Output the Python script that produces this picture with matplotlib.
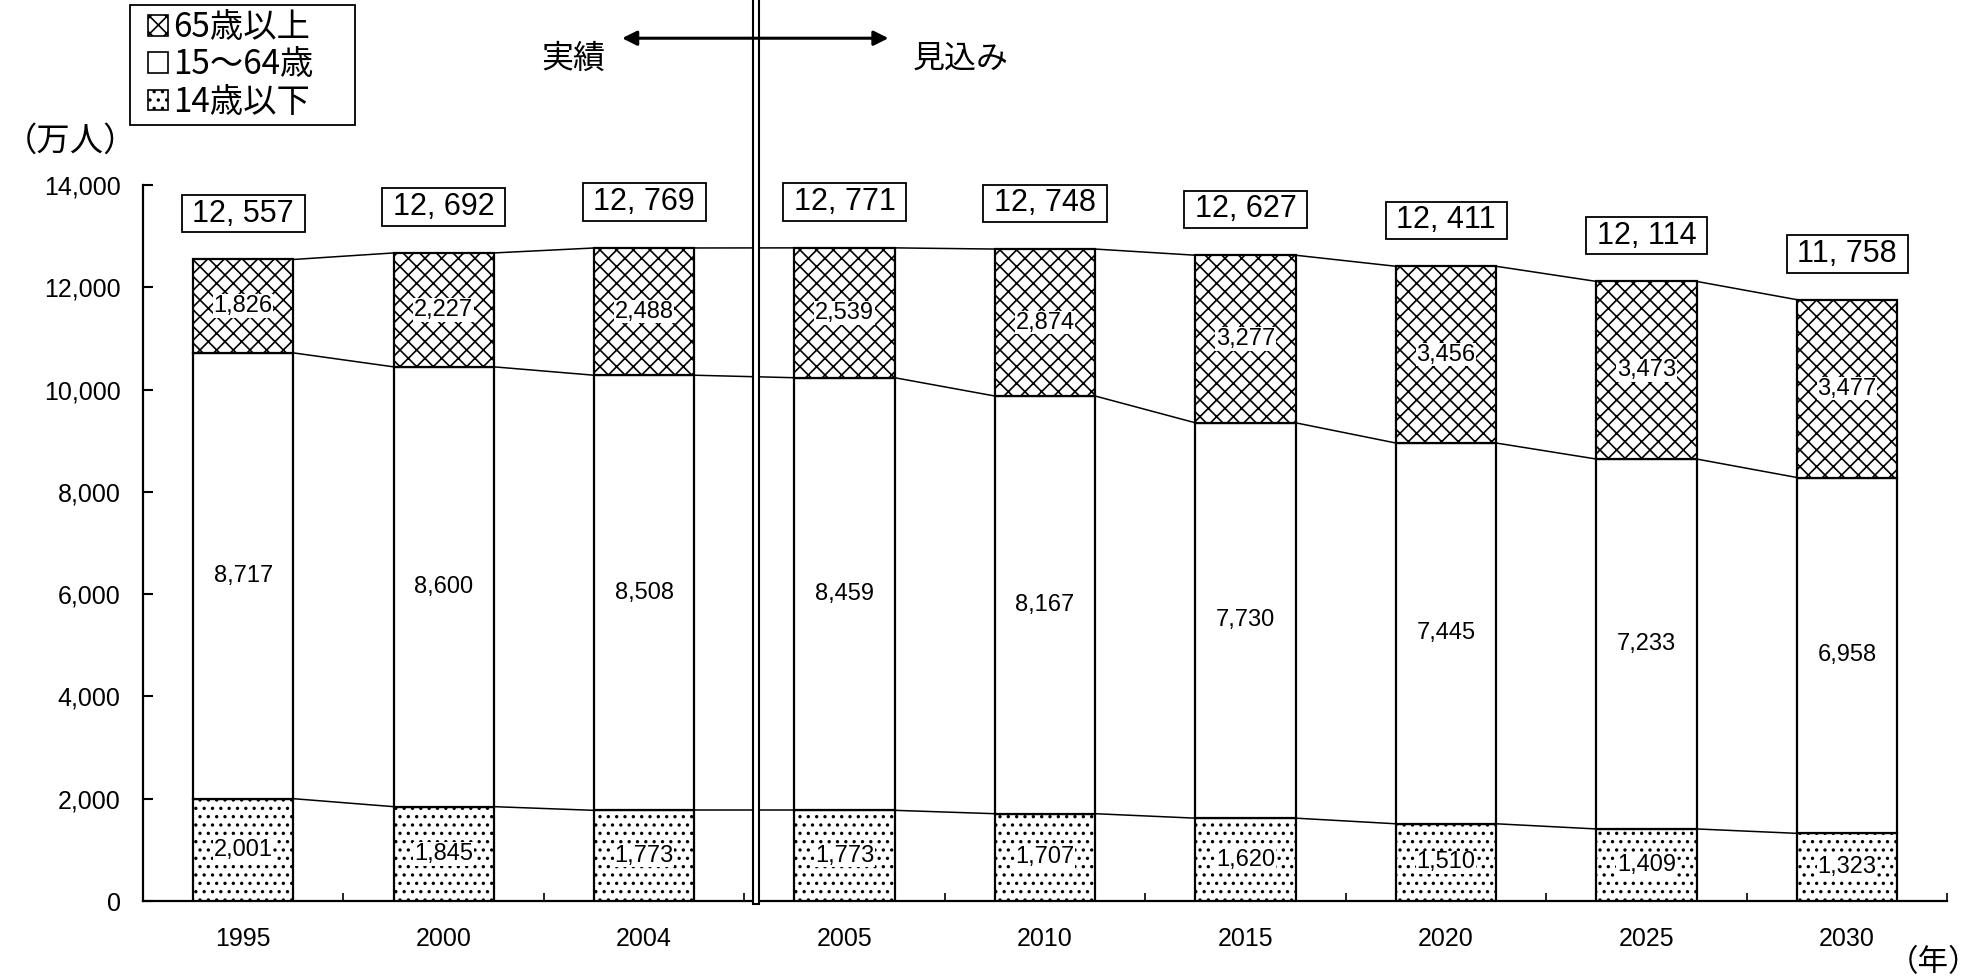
import numpy as np
import matplotlib
matplotlib.use("Agg")
import matplotlib.pyplot as plt
from matplotlib.patches import Patch, Rectangle
from matplotlib.legend_handler import HandlerPatch
from matplotlib.path import Path

plt.rcParams['font.family'] = ['Liberation Sans', 'Noto Sans CJK JP', 'DejaVu Sans']
plt.rcParams['hatch.linewidth'] = 1.2

# population by age group (10k persons)
years = ['1995', '2000', '2004', '2005', '2010', '2015', '2020', '2025', '2030']
total = [12557, 12692, 12769, 12771, 12748, 12627, 12411, 12114, 11758]
age65 = [1826, 2227, 2488, 2539, 2874, 3277, 3456, 3473, 3477]
age15_64 = [8717, 8600, 8508, 8459, 8167, 7730, 7445, 7233, 6958]
age0_14 = [2001, 1845, 1773, 1773, 1707, 1620, 1510, 1409, 1323]

yticks = [0, 2000, 4000, 6000, 8000, 10000, 12000, 14000]
legend_labels = ['65歳以上', '15～64歳', '14歳以下']

CJK = ['Noto Sans CJK JP', 'DejaVu Sans']
HATCH_OLD = '//\\\\'
HATCH_YOUNG = '..'


def wide_box(x0, y0, width, height, mutation_size):
    # plain rectangle with more room left/right than above/below
    padx = 0.35 * mutation_size
    pady = 0.12 * mutation_size
    x0, y0 = x0 - padx, y0 - pady
    x1, y1 = x0 + width + 2 * padx, y0 + height + 2 * pady
    return Path([(x0, y0), (x1, y0), (x1, y1), (x0, y1), (x0, y0)], closed=True)


def square_key(legend, orig_handle, xdescent, ydescent, width, height, fontsize):
    # small square pushed to the right end of the handle slot
    return Rectangle((width - height - xdescent, -ydescent), height, height)


fig = plt.figure(figsize=(19.85, 9.8), dpi=100)
ax = fig.add_axes([0.072, 0.0806, 0.909, 0.7306])

x = np.arange(len(years))
w = 0.5
young = np.array(age0_14)
work = np.array(age15_64)
old = np.array(age65)

ax.bar(x, young, w, color='white', edgecolor='black', hatch=HATCH_YOUNG, lw=1.6, zorder=3)
ax.bar(x, work, w, bottom=young, color='white', edgecolor='black', lw=1.6, zorder=3)
ax.bar(x, old, w, bottom=young + work, color='white', edgecolor='black',
       hatch=HATCH_OLD, lw=1.6, zorder=3)

# thin lines joining the segment boundaries of neighbouring bars
for level in [young, young + work, young + work + old]:
    for i in range(len(years) - 1):
        ax.plot([x[i] + w / 2, x[i + 1] - w / 2], [level[i], level[i + 1]],
                color='black', lw=1.1, zorder=2)

# value labels inside the segments, totals in boxes above
for i in range(len(years)):
    ax.text(x[i], young[i] / 2, f'{age0_14[i]:,}', ha='center', va='center',
            fontsize=17, zorder=4,
            bbox=dict(facecolor='white', edgecolor='none', pad=0.5))
    ax.text(x[i], young[i] + work[i] / 2, f'{age15_64[i]:,}', ha='center',
            va='center', fontsize=17, zorder=4)
    ax.text(x[i], young[i] + work[i] + old[i] / 2, f'{age65[i]:,}', ha='center',
            va='center', fontsize=17, zorder=4,
            bbox=dict(facecolor='white', edgecolor='none', pad=0.5))
    ax.annotate(f'{total[i] // 1000}, {total[i] % 1000:03d}',
                xy=(x[i], young[i] + work[i] + old[i]), xytext=(0, 33),
                textcoords='offset points', ha='center', va='center',
                fontsize=22, zorder=4,
                bbox=dict(boxstyle=wide_box, facecolor='white',
                          edgecolor='black', lw=1.3))

# axes styling
ax.set_xlim(-0.5, len(years) - 0.5)
ax.set_ylim(0, 14000)
ax.set_yticks(yticks)
ax.set_yticklabels([f'{v:,}' for v in yticks], fontsize=18)
ax.tick_params(axis='y', direction='in', length=7, width=1.5, pad=16)
ax.set_xticks(x)
ax.set_xticklabels(years, fontsize=18)
ax.tick_params(axis='x', which='major', length=0, pad=19)
ax.set_xticks(np.arange(-0.5, len(years)), minor=True)
ax.tick_params(axis='x', which='minor', direction='in', length=6, width=1.2)
for side in ['top', 'right']:
    ax.spines[side].set_visible(False)
ax.spines['left'].set_linewidth(1.6)
ax.spines['bottom'].set_linewidth(1.6)

# divider between actual and projected values
ax.axvspan(2.545, 2.572, ymin=-0.004, ymax=1.3, facecolor='white',
           edgecolor='black', lw=1.5, clip_on=False, zorder=6)

fig.text(0.002, 0.856, '（万人）', ha='left', va='center', fontsize=24, family=CJK)
fig.text(0.997, 0.018, '（年）', ha='right', va='center', fontsize=22, family=CJK)

# arrow and labels for the two periods
fig.add_artist(plt.Annotation('', xy=(0.312, 0.961), xytext=(0.449, 0.961),
                              xycoords='figure fraction',
                              arrowprops=dict(arrowstyle='<|-|>', color='black',
                                              lw=2.2, mutation_scale=22)))
fig.text(0.289, 0.940, '実績', ha='center', va='center', fontsize=23, family=CJK)
fig.text(0.484, 0.940, '見込み', ha='center', va='center', fontsize=23, family=CJK)

handles = [Patch(facecolor='white', edgecolor='black', hatch=HATCH_OLD, lw=1.2),
           Patch(facecolor='white', edgecolor='black', lw=1.2),
           Patch(facecolor='white', edgecolor='black', hatch=HATCH_YOUNG, lw=1.2)]
leg = fig.legend(handles, legend_labels, loc='upper left', mode='expand',
                 bbox_to_anchor=(0.0655, 0.8776, 0.1134, 0.1173),
                 prop={'family': CJK, 'size': 24},
                 handler_map={Patch: HandlerPatch(patch_func=square_key)},
                 handlelength=1.0, handleheight=0.58, handletextpad=0.15,
                 labelspacing=0.07, borderpad=0.15, borderaxespad=0,
                 fancybox=False, edgecolor='black', framealpha=1)
leg.get_frame().set_linewidth(1.3)

fig.savefig('out.png', dpi=100, facecolor='white')
